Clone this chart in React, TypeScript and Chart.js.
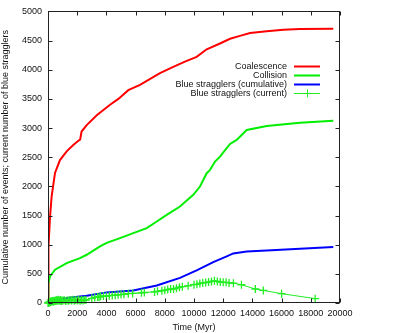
import { useEffect, useRef } from 'react';
import { Chart, registerables } from 'chart.js';

Chart.register(...registerables);

const FONT = "'Liberation Sans', Arial, sans-serif";

const xTicks = [0, 2000, 4000, 6000, 8000, 10000, 12000, 14000, 16000, 18000, 20000];
const yTicks = [0, 500, 1000, 1500, 2000, 2500, 3000, 3500, 4000, 4500, 5000];

const seriesLabels = ['Coalescence', 'Collision', 'Blue stragglers (cumulative)', 'Blue stragglers (current)'];
const seriesColors = ['#ff0000', '#00ee00', '#0000ff', '#22ee22'];

const coalescenceTime = [0, 20, 45, 140, 250, 480, 820, 1280, 1730, 2120, 2200, 2300, 2650, 3340, 4250, 4820, 5500, 6300, 7670, 8580, 9380, 10180, 10870, 11780, 12470, 13150, 13840, 14980, 16120, 17260, 19540];
const coalescenceCount = [0, 500, 970, 1480, 1830, 2230, 2450, 2600, 2710, 2790, 2800, 2940, 3050, 3220, 3400, 3500, 3650, 3740, 3940, 4050, 4140, 4220, 4350, 4450, 4530, 4580, 4630, 4660, 4685, 4697, 4702];

const collisionTime = [0, 10, 30, 137, 480, 1280, 2190, 2650, 3560, 4020, 4930, 5840, 6760, 7450, 8130, 9040, 9950, 10410, 10870, 11100, 11440, 11780, 12240, 12470, 12920, 13610, 14980, 17260, 19540];
const collisionCount = [0, 170, 340, 455, 570, 685, 770, 827, 969, 1030, 1113, 1199, 1284, 1397, 1512, 1654, 1854, 1997, 2226, 2283, 2425, 2510, 2654, 2728, 2796, 2967, 3036, 3092, 3127];

const cumulativeTime = [0, 137, 1280, 2650, 4020, 5840, 7450, 9040, 10180, 11320, 12240, 12690, 13610, 14980, 17260, 19540];
const cumulativeCount = [0, 27, 86, 125, 182, 215, 300, 430, 560, 700, 800, 850, 884, 901, 930, 959];

const currentTime = [0, 40, 80, 120, 160, 200, 250, 300, 350, 400, 450, 500, 550, 600, 650, 700, 750, 800, 850, 900, 950, 1000, 1100, 1200, 1300, 1400, 1500, 1600, 1700, 1800, 1900, 2000, 2100, 2200, 2300, 2400, 2500, 2600, 3000, 3200, 3400, 3500, 3600, 3800, 4000, 4200, 4400, 4600, 4800, 5000, 5200, 5500, 5800, 6400, 6600, 7300, 7500, 7800, 8000, 8200, 8400, 8600, 8800, 9000, 9200, 9600, 10000, 10200, 10400, 10600, 10800, 11000, 11200, 11400, 11600, 11800, 12000, 12200, 12400, 12700, 13250, 14200, 14750, 16000, 18300];
const currentCount = [0, 10, 5, 20, 15, 30, 25, 35, 20, 40, 30, 45, 35, 50, 40, 55, 45, 40, 50, 35, 45, 40, 50, 35, 45, 40, 50, 45, 55, 40, 50, 45, 55, 40, 50, 45, 55, 50, 80, 95, 105, 100, 115, 120, 115, 125, 130, 135, 140, 145, 150, 160, 165, 175, 180, 190, 200, 210, 220, 230, 240, 240, 255, 270, 280, 295, 315, 320, 335, 345, 350, 360, 370, 380, 370, 360, 355, 355, 345, 340, 313, 240, 215, 160, 75];

const toPoints = (xs: number[], ys: number[]) => xs.map((x, i) => ({ x, y: ys[i] }));

const framePlugin = {
  id: 'frame',
  afterDraw(chart: any) {
    const { ctx, chartArea: a, scales } = chart;
    ctx.save();
    ctx.strokeStyle = '#222';
    ctx.lineWidth = 1;
    const L = Math.round(a.left) + 0.5;
    const R = Math.round(a.right) - 0.5;
    const T = Math.round(a.top) + 0.5;
    const B = Math.round(a.bottom) - 0.5;
    ctx.strokeRect(L, T, R - L, B - T);
    const len = 4;
    ctx.beginPath();
    xTicks.forEach((v) => {
      const px = Math.round(scales.x.getPixelForValue(v)) + 0.5;
      ctx.moveTo(px, B);
      ctx.lineTo(px, B - len);
      ctx.moveTo(px, T);
      ctx.lineTo(px, T + len);
    });
    yTicks.forEach((v) => {
      const py = Math.round(scales.y.getPixelForValue(v)) + 0.5;
      ctx.moveTo(L, py);
      ctx.lineTo(L + len, py);
      ctx.moveTo(R, py);
      ctx.lineTo(R - len, py);
    });
    ctx.stroke();

    // legend (gnuplot style: right-aligned text, sample on right)
    ctx.font = `9px ${FONT}`;
    ctx.textAlign = 'right';
    ctx.textBaseline = 'middle';
    ctx.fillStyle = '#111';
    const textRight = 287;
    const x1 = 294;
    const x2 = 320;
    const rowY = [66.5, 75.5, 84.5, 93.5];
    chart.data.datasets.forEach((ds: any, i: number) => {
      const y = rowY[i];
      ctx.fillText(ds.label, textRight, y);
      ctx.strokeStyle = ds.borderColor;
      ctx.lineWidth = ds.borderWidth;
      ctx.beginPath();
      ctx.moveTo(x1, y);
      ctx.lineTo(x2, y);
      ctx.stroke();
      if (ds.pointRadius > 0) {
        const cx = Math.round((x1 + x2) / 2) + 0.5;
        ctx.lineWidth = 1;
        ctx.beginPath();
        ctx.moveTo(cx, y - 4);
        ctx.lineTo(cx, y + 4);
        ctx.moveTo(cx - 4, y);
        ctx.lineTo(cx + 4, y);
        ctx.stroke();
      }
    });
    ctx.restore();
  },
};

export default function App() {
  const canvasRef = useRef<HTMLCanvasElement | null>(null);

  useEffect(() => {
    if (!canvasRef.current) return;
    const chart = new Chart(canvasRef.current, {
      type: 'line',
      data: {
        datasets: [
          {
            label: seriesLabels[0],
            data: toPoints(coalescenceTime, coalescenceCount),
            borderColor: seriesColors[0],
            backgroundColor: seriesColors[0],
            borderWidth: 2,
            pointRadius: 0,
            order: 3,
          },
          {
            label: seriesLabels[1],
            data: toPoints(collisionTime, collisionCount),
            borderColor: seriesColors[1],
            backgroundColor: seriesColors[1],
            borderWidth: 2,
            pointRadius: 0,
            order: 2,
          },
          {
            label: seriesLabels[2],
            data: toPoints(cumulativeTime, cumulativeCount),
            borderColor: seriesColors[2],
            backgroundColor: seriesColors[2],
            borderWidth: 2,
            pointRadius: 0,
            order: 1,
          },
          {
            label: seriesLabels[3],
            data: toPoints(currentTime, currentCount),
            borderColor: seriesColors[3],
            backgroundColor: seriesColors[3],
            borderWidth: 1,
            pointRadius: 4,
            pointStyle: 'cross',
            pointBorderWidth: 1.3,
            clip: false,
            order: 0,
          } as any,
        ],
      },
      options: {
        animation: false,
        responsive: true,
        maintainAspectRatio: false,
        layout: { padding: { top: 11, right: 70, left: 0, bottom: 0 } },
        plugins: {
          legend: { display: false },
          tooltip: { enabled: false },
        },
        scales: {
          x: {
            type: 'linear',
            min: 0,
            max: 20000,
            grid: { display: false, drawTicks: false },
            border: { display: false },
            afterBuildTicks: (s: any) => {
              s.ticks = xTicks.map((v) => ({ value: v }));
            },
            afterFit: (s: any) => {
              s.height = 30;
            },
            ticks: {
              autoSkip: false,
              maxRotation: 0,
              padding: 5,
              color: '#111',
              font: { family: FONT, size: 9 },
              callback: (v: any) => String(v),
            },
            title: {
              display: true,
              text: 'Time (Myr)',
              color: '#111',
              padding: { top: 0, bottom: 0 },
              font: { family: FONT, size: 9 },
            },
          },
          y: {
            type: 'linear',
            min: 0,
            max: 5000,
            grid: { display: false, drawTicks: false },
            border: { display: false },
            afterBuildTicks: (s: any) => {
              s.ticks = yTicks.map((v) => ({ value: v }));
            },
            afterFit: (s: any) => {
              s.width = 48;
            },
            ticks: {
              autoSkip: false,
              padding: 6,
              color: '#111',
              font: { family: FONT, size: 9 },
              callback: (v: any) => String(v),
            },
            title: {
              display: true,
              text: 'Cumulative number of events; current number of blue stragglers',
              color: '#111',
              padding: { top: 0, bottom: 0 },
              font: { family: FONT, size: 9 },
            },
          },
        },
      },
      plugins: [framePlugin],
    });
    return () => chart.destroy();
  }, []);

  return (
    <div style={{ position: 'absolute', left: 0, top: 0, width: 410, height: 333, background: '#fff' }}>
      <canvas ref={canvasRef} />
    </div>
  );
}
